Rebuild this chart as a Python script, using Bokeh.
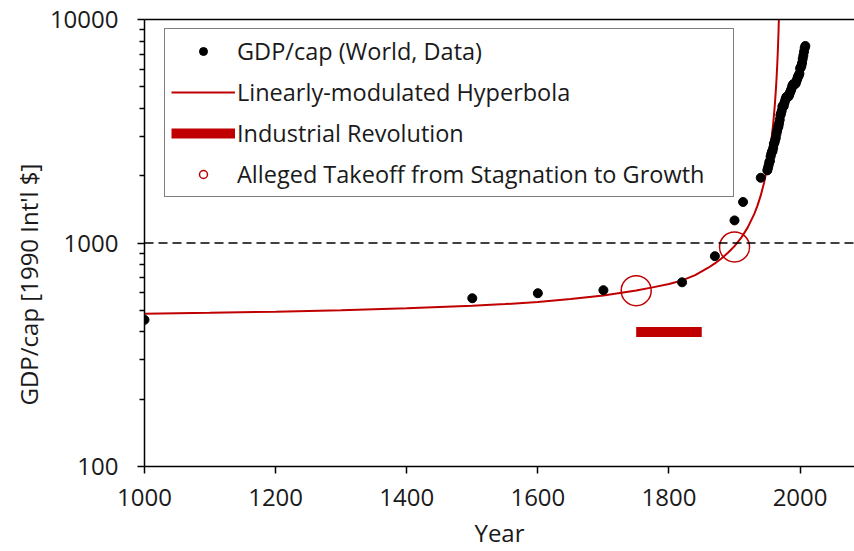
from bokeh.plotting import figure
from bokeh.models import (Range1d, FixedTicker, PrintfTickFormatter, Span,
                          LinearAxis, Legend, LegendItem, Title)
from bokeh.embed import file_html
from bokeh.resources import INLINE

# ---- data ----
data_years = [1000, 1500, 1600, 1700, 1820, 1870, 1900, 1913, 1940,
              1950, 1951, 1952, 1953, 1954, 1955, 1956, 1957, 1958, 1959,
              1960, 1961, 1962, 1963, 1964, 1965, 1966, 1967, 1968, 1969,
              1970, 1971, 1972, 1973, 1974, 1975, 1976, 1977, 1978, 1979,
              1980, 1981, 1982, 1983, 1984, 1985, 1986, 1987, 1988, 1989,
              1990, 1991, 1992, 1993, 1994, 1995, 1996, 1997, 1998, 1999,
              2000, 2001, 2002, 2003, 2004, 2005, 2006, 2007, 2008]
data_gdp = [453, 566, 596, 615, 667, 873, 1262, 1526, 1958,
            2113, 2165, 2225, 2297, 2330, 2436, 2505, 2558, 2585, 2665,
            2777, 2814, 2891, 2959, 3081, 3173, 3269, 3322, 3433, 3563,
            3729, 3807, 3907, 4083, 4112, 4094, 4221, 4317, 4414, 4496,
            4512, 4524, 4512, 4558, 4665, 4741, 4822, 4908, 5031, 5107,
            5150, 5126, 5137, 5157, 5248, 5350, 5456, 5580, 5619, 5729,
            6038, 6097, 6205, 6388, 6667, 6898, 7175, 7454, 7614]

curve_years = [1000, 1100, 1200, 1300, 1400, 1500, 1550, 1600, 1650, 1700,
               1750, 1775, 1800, 1820, 1840, 1860, 1870, 1880, 1890, 1900,
               1910, 1920, 1930, 1935, 1940, 1945, 1950, 1953, 1955, 1957,
               1959, 1960, 1961, 1962, 1963, 1964, 1965, 1966, 1967, 1968]
curve_gdp = [482, 487, 493, 500, 510, 524, 533, 545, 561, 582,
             613, 633, 656, 680, 718, 775, 810, 852, 904, 968,
             1053, 1172, 1347, 1470, 1633, 1857, 2185, 2466, 2710, 3020,
             3429, 3686, 3992, 4362, 4817, 5393, 6142, 7160, 8620, 10891]

ir_years = [1750, 1850]
ir_gdp = [400, 400]

takeoff_years = [1750, 1900]
takeoff_gdp = [612, 960]

threshold = 1000

x_ticks = [1000, 1200, 1400, 1600, 1800, 2000]
y_ticks = [100, 1000, 10000]
y_minor = [200, 300, 400, 500, 600, 700, 800, 900,
           2000, 3000, 4000, 5000, 6000, 7000, 8000, 9000]

labels = ["GDP/cap (World, Data)", "Linearly-modulated Hyperbola",
          "Industrial Revolution", "Alleged Takeoff from Stagnation to Growth"]
x_title = "Year"
y_title = "GDP/cap [1990 Int'l $]"

RED = "#C00000"
FONT = "Open Sans"
TXT = "#1a1a1a"

p = figure(width=854, height=551, y_axis_type="log",
           x_range=Range1d(1000, 2083), y_range=Range1d(100, 10000),
           output_backend="svg", toolbar_location=None,
           min_border_left=144, min_border_right=0,
           min_border_top=19, min_border_bottom=85)
p.outline_line_color = None
p.xgrid.visible = False
p.ygrid.visible = False
p.background_fill_color = "white"

p.add_layout(Span(location=threshold, dimension="width", line_color="black",
                  line_width=1.5, line_dash="9 5"))

r_curve = p.line(curve_years, curve_gdp, line_color=RED, line_width=2)
r_ir = p.line(ir_years, ir_gdp, line_color=RED, line_width=10, line_cap="butt")
r_data = p.scatter(data_years, data_gdp, size=9, color="black")
r_take = p.scatter(takeoff_years, takeoff_gdp, size=30, fill_color=None,
                   line_color=RED, line_width=1.5)

# axes
xa = p.xaxis[0]
xa.ticker = FixedTicker(ticks=x_ticks)
xa.axis_label = x_title
ya = p.yaxis[0]
ya.ticker = FixedTicker(ticks=y_ticks, minor_ticks=y_minor)
ya.formatter = PrintfTickFormatter(format="%d")
for ax in (xa, ya):
    ax.axis_line_width = 1.5
    ax.axis_line_color = "black"
    ax.major_tick_line_color = "black"
    ax.major_tick_line_width = 1.5
    ax.minor_tick_line_color = "black"
    ax.minor_tick_line_width = 1.5
    ax.major_tick_in = 0
    ax.major_tick_out = 7
    ax.minor_tick_in = 0
    ax.minor_tick_out = 5
    ax.major_label_text_font = FONT
    ax.major_label_text_font_size = "24px"
    ax.major_label_text_color = TXT
    ax.axis_label_text_font = FONT
    ax.axis_label_text_font_size = "24px"
    ax.axis_label_text_font_style = "normal"
    ax.axis_label_text_color = TXT
xa.minor_tick_line_color = None
xa.major_label_standoff = 15
xa.axis_label_standoff = 7
ya.major_label_standoff = 19

# y-axis title, placed (like the reference) a little below the frame centre
p.add_layout(Title(text=y_title, align="left", offset=61, standoff=4,
                   text_font=FONT, text_font_size="24px",
                   text_font_style="normal", text_color=TXT), "left")

top = LinearAxis(ticker=FixedTicker(ticks=[]), axis_line_width=1.5,
                 axis_line_color="black", major_label_text_font_size="0px",
                 major_tick_line_color=None, minor_tick_line_color=None)
p.add_layout(top, "above")

legend = Legend(items=[LegendItem(label=labels[0], renderers=[r_data]),
                       LegendItem(label=labels[1], renderers=[r_curve]),
                       LegendItem(label=labels[2], renderers=[r_ir]),
                       LegendItem(label=labels[3], renderers=[r_take])],
                location=(20, 269))
legend.label_text_font = FONT
legend.label_text_font_size = "23.5px"
legend.label_text_color = TXT
legend.border_line_color = "black"
legend.border_line_width = 1.3
legend.background_fill_alpha = 1.0
legend.padding = 6
legend.spacing = 9
legend.glyph_width = 64
legend.glyph_height = 20
legend.label_height = 20
legend.label_width = 490
legend.label_standoff = 2
legend.margin = 0
p.add_layout(legend, "center")

open("out.html", "w").write(file_html(p, INLINE))
